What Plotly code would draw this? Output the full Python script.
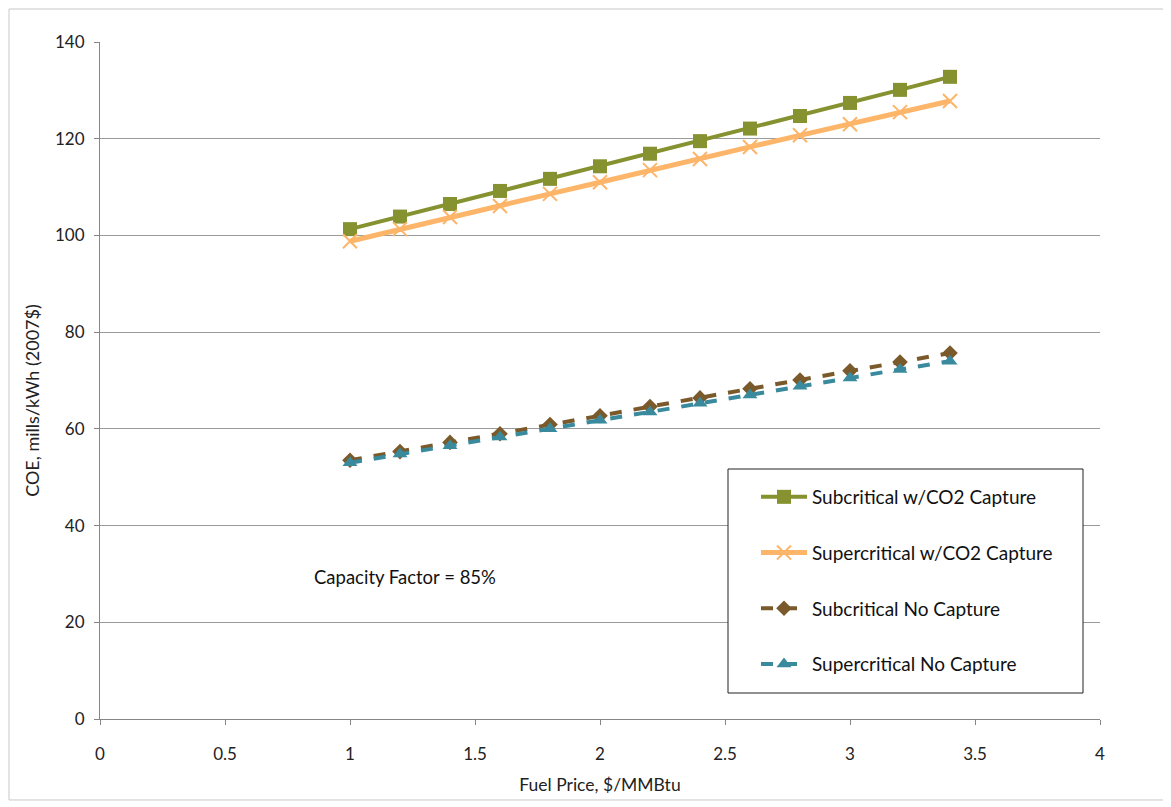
import plotly.graph_objects as go

fuel_price = [1.0, 1.2, 1.4, 1.6, 1.8, 2.0, 2.2, 2.4, 2.6, 2.8, 3.0, 3.2, 3.4]
sub_ccs = [101.3, 103.9, 106.5, 109.2, 111.7, 114.3, 116.9, 119.5, 122.1, 124.7, 127.4, 130.1, 132.8]
super_ccs = [98.8, 101.3, 103.8, 106.1, 108.6, 111.0, 113.5, 115.8, 118.3, 120.7, 123.0, 125.5, 127.8]
sub_no = [53.5, 55.3, 57.2, 59.0, 60.9, 62.7, 64.6, 66.4, 68.3, 70.1, 72.0, 73.8, 75.7]
super_no = [53.0, 54.8, 56.5, 58.3, 60.0, 61.8, 63.5, 65.3, 67.0, 68.8, 70.5, 72.3, 74.0]

names = ["Subcritical w/CO2 Capture", "Supercritical w/CO2 Capture",
         "Subcritical No Capture", "Supercritical No Capture"]
series = [sub_ccs, super_ccs, sub_no, super_no]
colors = ["#869130", "#FDB56A", "#7A5A2B", "#3A8A9E"]
symbols = ["square", "x-thin", "diamond", "triangle-up"]
dashes = ["solid", "solid", "dash", "dash"]
widths = [4, 5, 4, 4]
msizes = [14, 14, 12, 13]

FONT = "Lato, 'Open Sans', sans-serif"

fig = go.Figure()
for i in range(4):
    marker = dict(symbol=symbols[i], size=msizes[i], color=colors[i])
    if symbols[i] == "x-thin":
        marker["line"] = dict(color=colors[i], width=2)
    fig.add_trace(go.Scatter(
        x=fuel_price, y=series[i], name=names[i], mode="lines+markers",
        line=dict(color=colors[i], width=widths[i], dash=dashes[i]),
        marker=marker, legendgroup=str(i),
    ))

# page body has an 8px offset; plot area is placed at 100..1100 x, 42..719 y on screen
fig.update_layout(
    width=1163, height=799,
    margin=dict(l=92, r=71, t=34, b=88),
    paper_bgcolor="white", plot_bgcolor="white",
    font=dict(family=FONT, size=17, color="#222222"),
    showlegend=True,
    legend=dict(x=0.656, y=0.356, xanchor="left", yanchor="top",
                bgcolor="rgba(0,0,0,0)", borderwidth=0,
                tracegroupgap=28, itemwidth=46,
                font=dict(family=FONT, size=19, color="#111111")),
    xaxis=dict(range=[0, 4], dtick=0.5, tick0=0, showgrid=False,
               showline=True, linecolor="#868686", linewidth=1,
               ticks="outside", ticklen=5, tickcolor="#868686",
               zeroline=False, tickfont=dict(size=17), ticklabelstandoff=15,
               title=dict(text="Fuel Price, $/MMBtu", font=dict(size=17.5), standoff=15)),
    yaxis=dict(range=[0, 140], dtick=20, showgrid=True, gridcolor="#9a9a9a", gridwidth=1,
               showline=True, linecolor="#868686", linewidth=1,
               ticks="outside", ticklen=5, tickcolor="#868686",
               zeroline=False, tickfont=dict(size=17), ticklabelstandoff=6),
    shapes=[
        dict(type="rect", xref="paper", yref="paper",
             x0=0.628, x1=0.983, y0=(719 - 693) / 677, y1=(719 - 469) / 677,
             line=dict(color="#222222", width=1), fillcolor="white", layer="above"),
        dict(type="rect", xref="paper", yref="paper",
             x0=-0.091, x1=1.064, y0=-0.1196, y1=1.0487,
             line=dict(color="#c8c8c8", width=1), fillcolor="rgba(0,0,0,0)"),
    ],
    annotations=[
        dict(x=1.218, y=29.4, xref="x", yref="y", text="Capacity Factor = 85%",
             showarrow=False, font=dict(size=18.5, color="#111111")),
        dict(x=-0.068, y=0.47, xref="paper", yref="paper", text="COE, mills/kWh (2007$)",
             textangle=-90, showarrow=False, yanchor="middle", xanchor="center",
             font=dict(size=18, color="#222222")),
    ],
)

fig.write_html("out.html")
